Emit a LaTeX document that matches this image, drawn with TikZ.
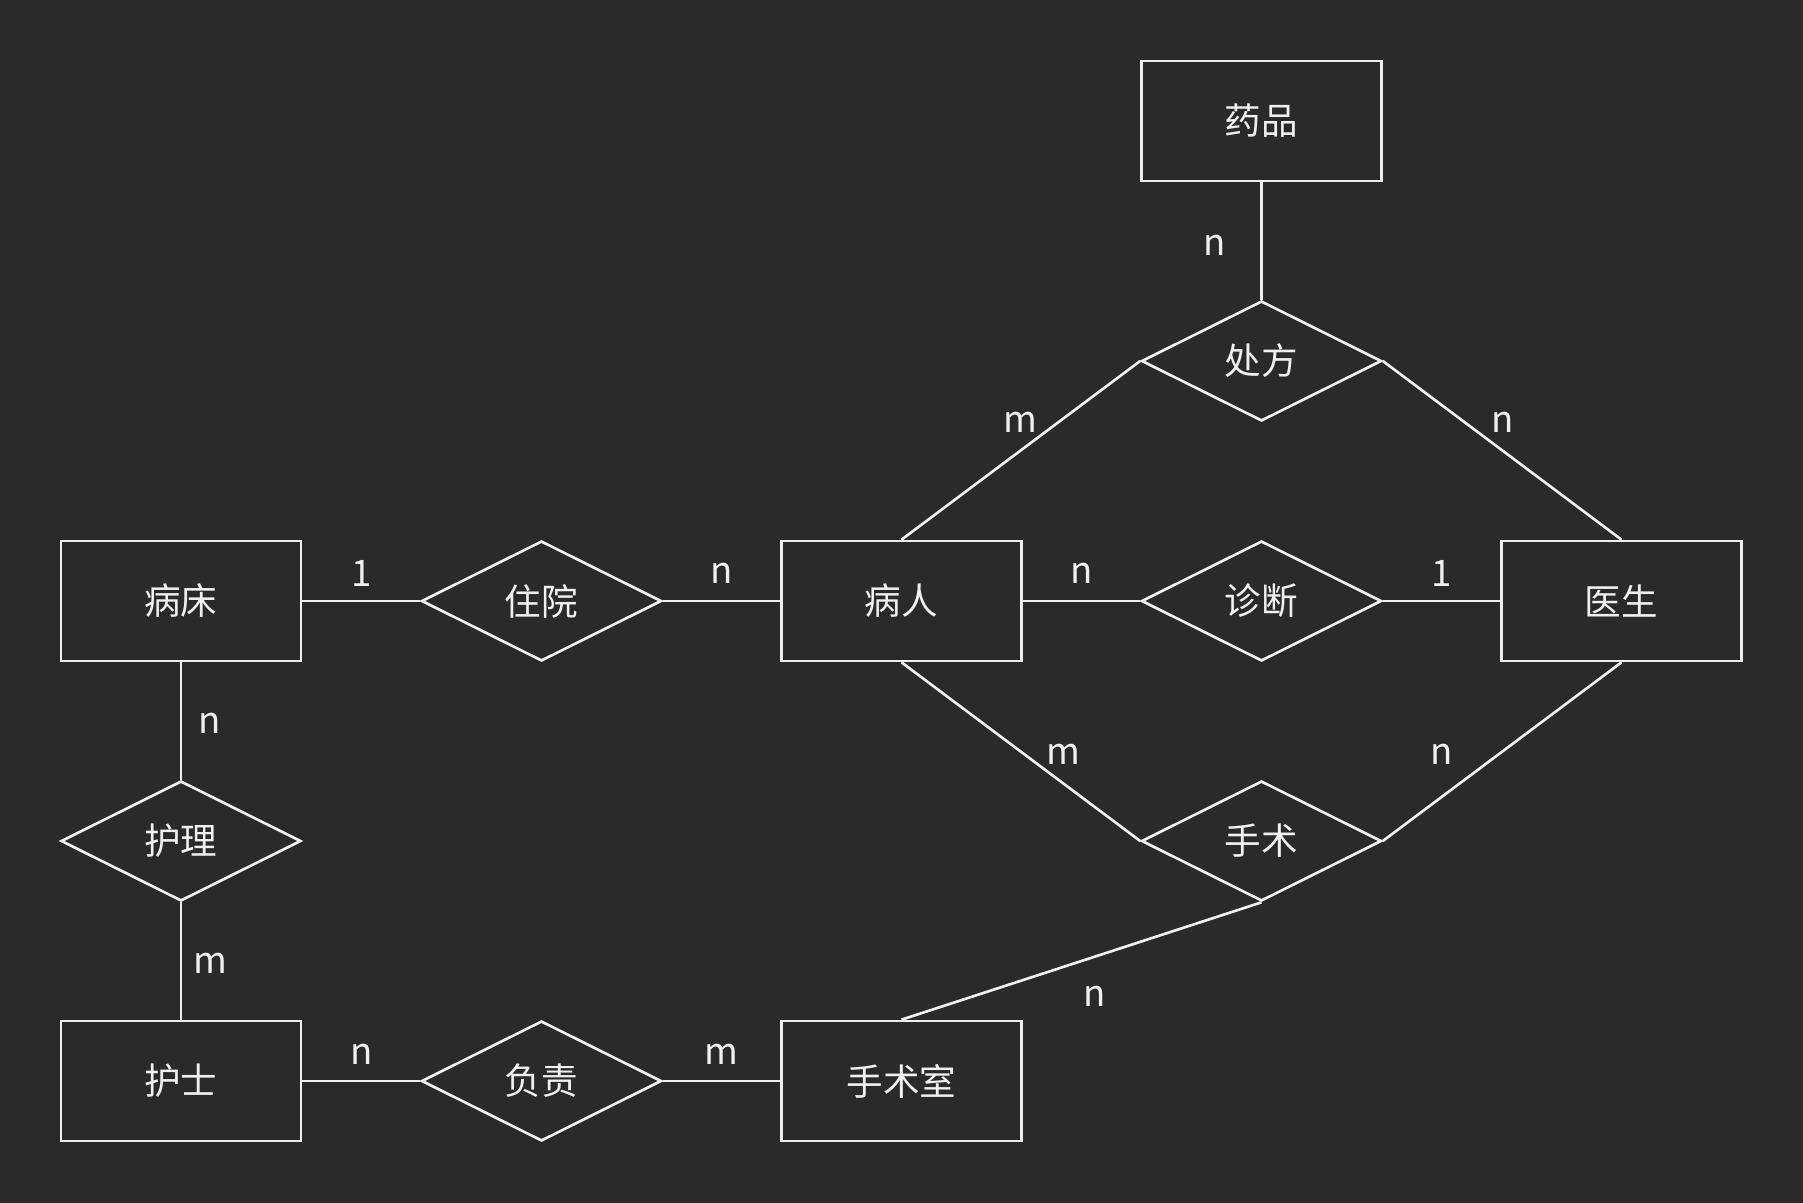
\documentclass[tikz,border=0pt]{standalone}
\usepackage{fontspec}
\setmainfont{Noto Sans CJK SC}
\usetikzlibrary{shapes.geometric}

\definecolor{bgdark}{HTML}{2A2A2A}
\definecolor{inkwhite}{HTML}{F0F0F0}

\begin{document}
\begin{tikzpicture}[
    line width=0.75pt, draw=inkwhite, text=inkwhite,
    every node/.style={font=\fontsize{10.4}{12}\selectfont},
    entity/.style={draw=inkwhite, rectangle, minimum width=2.4cm, minimum height=1.2cm, inner sep=0pt},
    relation/.style={draw=inkwhite, diamond, aspect=2, minimum width=2.4cm, minimum height=1.2cm, inner sep=0pt},
    link/.style={draw=inkwhite},
    card/.style={midway, inner sep=0pt, text=inkwhite}
]

    % 背景
    \fill[bgdark] (0, 0) rectangle (18.03, 12.03);
    \useasboundingbox (0, 0) rectangle (18.03, 12.03);

    % 实体
    \node[entity] (yaopin)   at (12.615, 10.82) {药品};
    \node[entity] (bingchuang) at (1.81, 6.02) {病床};
    \node[entity] (bingren)  at (9.015, 6.02) {病人};
    \node[entity] (yisheng)  at (16.215, 6.02) {医生};
    \node[entity] (hushi)    at (1.81, 1.22) {护士};
    \node[entity] (shoushushi) at (9.015, 1.22) {手术室};

    % 联系
    \node[relation] (chufang)  at (12.615, 8.42) {处方};
    \node[relation] (zhuyuan)  at (5.415, 6.02) {住院};
    \node[relation] (zhenduan) at (12.615, 6.02) {诊断};
    \node[relation] (huli)     at (1.81, 3.62) {护理};
    \node[relation] (shoushu)  at (12.615, 3.62) {手术};
    \node[relation] (fuze)     at (5.415, 1.22) {负责};

    % 处方
    \draw[link] (yaopin.south) -- node[card, xshift=-0.47cm, yshift=-0.04cm] {n} (chufang.north);
    \draw[link] (chufang.west) -- node[card, yshift=0.28cm] {m} (bingren.north);
    \draw[link] (chufang.east) -- node[card, yshift=0.28cm] {n} (yisheng.north);

    % 住院 / 诊断
    \draw[link] (bingchuang.east) -- node[card, yshift=0.28cm] {1} (zhuyuan.west);
    \draw[link] (zhuyuan.east) -- node[card, yshift=0.28cm] {n} (bingren.west);
    \draw[link] (bingren.east) -- node[card, yshift=0.28cm] {n} (zhenduan.west);
    \draw[link] (zhenduan.east) -- node[card, yshift=0.28cm] {1} (yisheng.west);

    % 护理
    \draw[link] (bingchuang.south) -- node[card, xshift=0.29cm, yshift=-0.02cm] {n} (huli.north);
    \draw[link] (huli.south) -- node[card, xshift=0.29cm, yshift=-0.02cm] {m} (hushi.north);

    % 手术
    \draw[link] (bingren.south) -- node[card, xshift=0.43cm, yshift=-0.03cm] {m} (shoushu.west);
    \draw[link] (yisheng.south) -- node[card, xshift=-0.61cm, yshift=-0.03cm] {n} (shoushu.east);
    \draw[link] (shoushu.south) -- node[card, xshift=0.13cm, yshift=-0.35cm] {n} (shoushushi.north);

    % 负责
    \draw[link] (hushi.east) -- node[card, yshift=0.27cm] {n} (fuze.west);
    \draw[link] (fuze.east) -- node[card, yshift=0.27cm] {m} (shoushushi.west);

\end{tikzpicture}
\end{document}
